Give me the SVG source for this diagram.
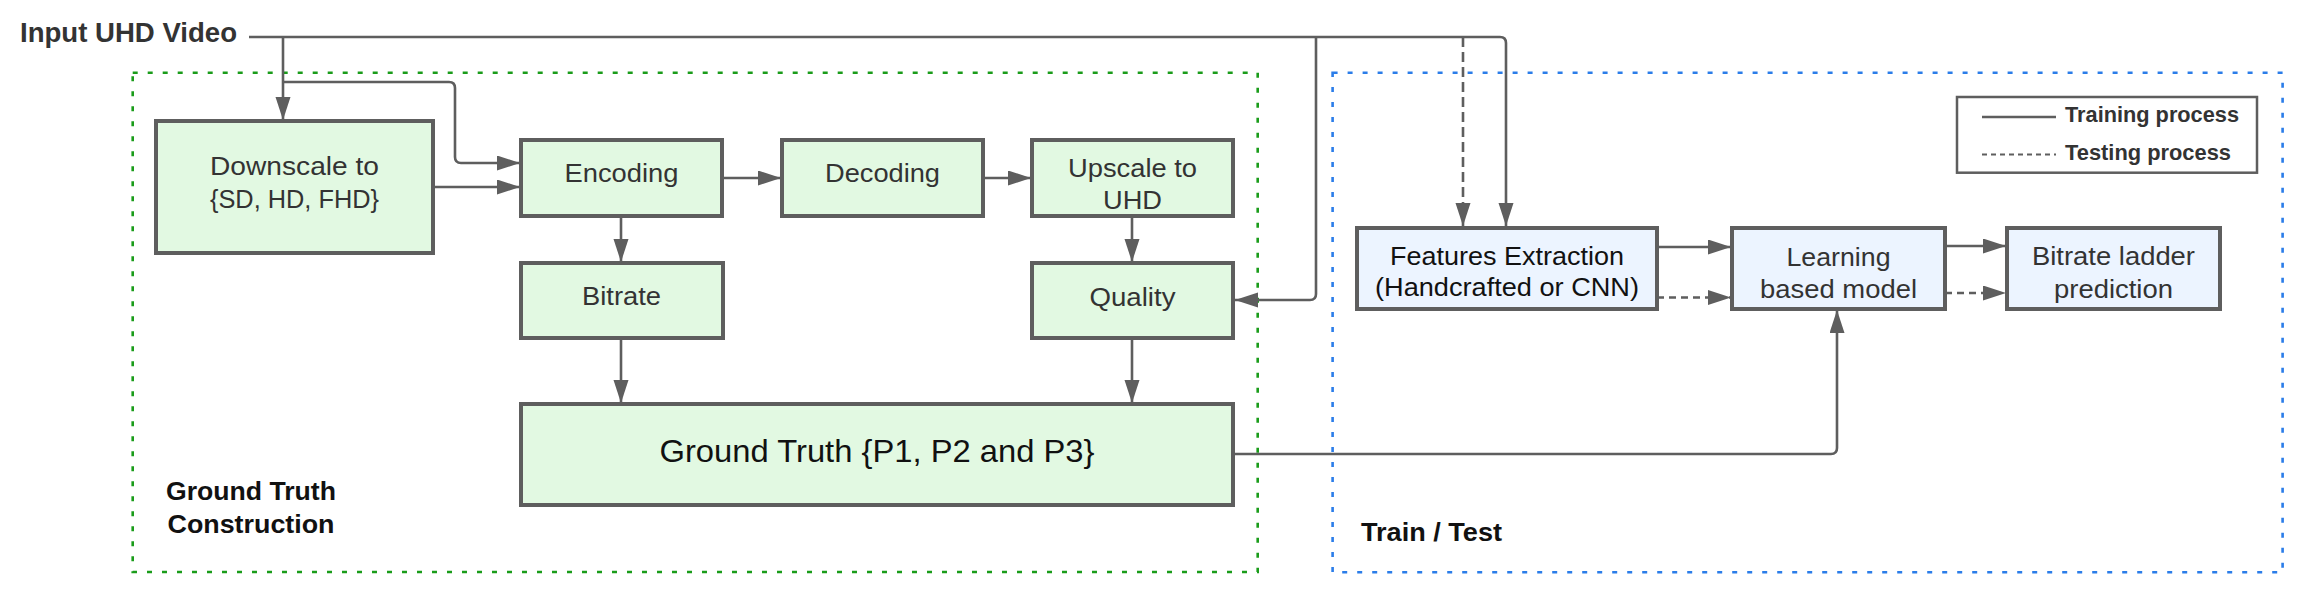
<svg xmlns="http://www.w3.org/2000/svg" width="2309" height="601" viewBox="0 0 2309 601">
<style>
.t{font-family:"Liberation Sans",Arial,sans-serif;fill:#333;}
.nt{font-size:26.5px;text-anchor:middle;}
.b{font-weight:bold;fill:#111;}
.gbox{fill:#e2f9e2;stroke:#5e5e5e;stroke-width:4;}
.bbox{fill:#ecf4ff;stroke:#5e5e5e;stroke-width:4;}
.c{fill:none;stroke:#5e5e5e;stroke-width:2.6;}
.d{stroke-dasharray:7 5;}
</style>
<defs>
<marker id="ah" markerUnits="userSpaceOnUse" markerWidth="24" markerHeight="16" refX="23" refY="7.5" orient="auto">
<path d="M0,0 L23,7.5 L0,15 z" fill="#5e5e5e"/>
</marker>
</defs>
<rect width="2309" height="601" fill="#fff"/>
<g id="group-ground-truth">
<rect x="132.7" y="72.7" width="1125" height="499.3" fill="none" stroke="#1a9c1a" stroke-width="2.6" stroke-dasharray="5 10"/>
<text class="t b" x="251" y="500" font-size="26" text-anchor="middle" textLength="170" lengthAdjust="spacingAndGlyphs">Ground Truth</text>
<text class="t b" x="251" y="533" font-size="26" text-anchor="middle" textLength="167" lengthAdjust="spacingAndGlyphs">Construction</text>
</g>
<g id="group-train-test">
<rect x="1332.6" y="72.7" width="950" height="499.6" fill="none" stroke="#2b7de9" stroke-width="2.6" stroke-dasharray="5 10"/>
<text class="t b" x="1361" y="541" font-size="26" textLength="141" lengthAdjust="spacingAndGlyphs">Train / Test</text>
</g>
<g id="input">
<text class="t b" x="20" y="42" font-size="27" textLength="217" lengthAdjust="spacingAndGlyphs" fill="#333" style="fill:#333">Input UHD Video</text>
</g>
<g id="connectors">
<path class="c" d="M249,37 H1500 Q1506,37 1506,43 V226" marker-end="url(#ah)"/>
<path class="c" d="M283,37 V120" marker-end="url(#ah)"/>
<path class="c" d="M283,82 H449 Q455,82 455,88 V157 Q455,163 461,163 H520" marker-end="url(#ah)"/>
<path class="c" d="M1316,37 V294 Q1316,300 1310,300 H1235" marker-end="url(#ah)"/>
<path class="c d" d="M1463,37 V226" style="stroke-dasharray:10 5" marker-end="url(#ah)"/>
<path class="c" d="M433,187 H520" marker-end="url(#ah)"/>
<path class="c" d="M722,178 H781" marker-end="url(#ah)"/>
<path class="c" d="M983,178 H1031" marker-end="url(#ah)"/>
<path class="c" d="M621,216 V262" marker-end="url(#ah)"/>
<path class="c" d="M1132,216 V262" marker-end="url(#ah)"/>
<path class="c" d="M621,338 V403" marker-end="url(#ah)"/>
<path class="c" d="M1132,338 V403" marker-end="url(#ah)"/>
<path class="c" d="M1233,454 H1831 Q1837,454 1837,448 V310" marker-end="url(#ah)"/>
<path class="c" d="M1657,247 H1731" marker-end="url(#ah)"/>
<path class="c d" d="M1657,297.5 H1731" marker-end="url(#ah)"/>
<path class="c" d="M1945,246 H2006" marker-end="url(#ah)"/>
<path class="c d" d="M1945,293 H2006" marker-end="url(#ah)"/>
</g>
<g id="downscale">
<rect class="gbox" x="156" y="121" width="277" height="132"/>
<text class="t nt" x="294.5" y="175" textLength="169" lengthAdjust="spacingAndGlyphs">Downscale to</text>
<text class="t nt" x="294.5" y="208" font-size="25" style="font-size:25px" textLength="169" lengthAdjust="spacingAndGlyphs">{SD, HD, FHD}</text>
</g>
<g id="encoding">
<rect class="gbox" x="521" y="140" width="201" height="76"/>
<text class="t nt" x="621.5" y="182" textLength="114" lengthAdjust="spacingAndGlyphs">Encoding</text>
</g>
<g id="decoding">
<rect class="gbox" x="782" y="140" width="201" height="76"/>
<text class="t nt" x="882.5" y="182" textLength="115" lengthAdjust="spacingAndGlyphs">Decoding</text>
</g>
<g id="upscale">
<rect class="gbox" x="1032" y="140" width="201" height="76"/>
<text class="t nt" x="1132.5" y="177" textLength="129" lengthAdjust="spacingAndGlyphs">Upscale to</text>
<text class="t nt" x="1132.5" y="209" textLength="59" lengthAdjust="spacingAndGlyphs">UHD</text>
</g>
<g id="bitrate">
<rect class="gbox" x="521" y="263" width="202" height="75"/>
<text class="t nt" x="621.5" y="305" textLength="79" lengthAdjust="spacingAndGlyphs">Bitrate</text>
</g>
<g id="quality">
<rect class="gbox" x="1032" y="263" width="201" height="75"/>
<text class="t nt" x="1132.5" y="306" textLength="86" lengthAdjust="spacingAndGlyphs">Quality</text>
</g>
<g id="ground-truth">
<rect class="gbox" x="521" y="404" width="712" height="101"/>
<text class="t" x="877" y="462" font-size="32" text-anchor="middle" fill="#111" style="fill:#111" textLength="435" lengthAdjust="spacingAndGlyphs">Ground Truth {P1, P2 and P3}</text>
</g>
<g id="features">
<rect class="bbox" x="1357" y="228" width="300" height="81"/>
<text class="t nt" x="1507" y="265" style="fill:#111" textLength="234" lengthAdjust="spacingAndGlyphs">Features Extraction</text>
<text class="t nt" x="1507" y="296" style="fill:#111" textLength="264" lengthAdjust="spacingAndGlyphs">(Handcrafted or CNN)</text>
</g>
<g id="learning">
<rect class="bbox" x="1732" y="228" width="213" height="81"/>
<text class="t nt" x="1838.5" y="266" textLength="104" lengthAdjust="spacingAndGlyphs">Learning</text>
<text class="t nt" x="1838.5" y="298" textLength="157" lengthAdjust="spacingAndGlyphs">based model</text>
</g>
<g id="bitrate-ladder">
<rect class="bbox" x="2007" y="228" width="213" height="81"/>
<text class="t nt" x="2113.5" y="265" textLength="163" lengthAdjust="spacingAndGlyphs">Bitrate ladder</text>
<text class="t nt" x="2113.5" y="298" textLength="119" lengthAdjust="spacingAndGlyphs">prediction</text>
</g>
<g id="legend">
<rect x="1957" y="97" width="300" height="75.7" fill="#fff" stroke="#5e5e5e" stroke-width="2.5"/>
<line x1="1982" y1="117" x2="2056" y2="117" stroke="#5e5e5e" stroke-width="2.5"/>
<text class="t b" x="2065" y="121.7" font-size="21.6" textLength="174" lengthAdjust="spacingAndGlyphs" style="fill:#333">Training process</text>
<line x1="1982" y1="154.5" x2="2056" y2="154.5" stroke="#5e5e5e" stroke-width="2.2" stroke-dasharray="5 4"/>
<text class="t b" x="2065" y="160" font-size="21.6" textLength="166" lengthAdjust="spacingAndGlyphs" style="fill:#333">Testing process</text>
</g>
</svg>
